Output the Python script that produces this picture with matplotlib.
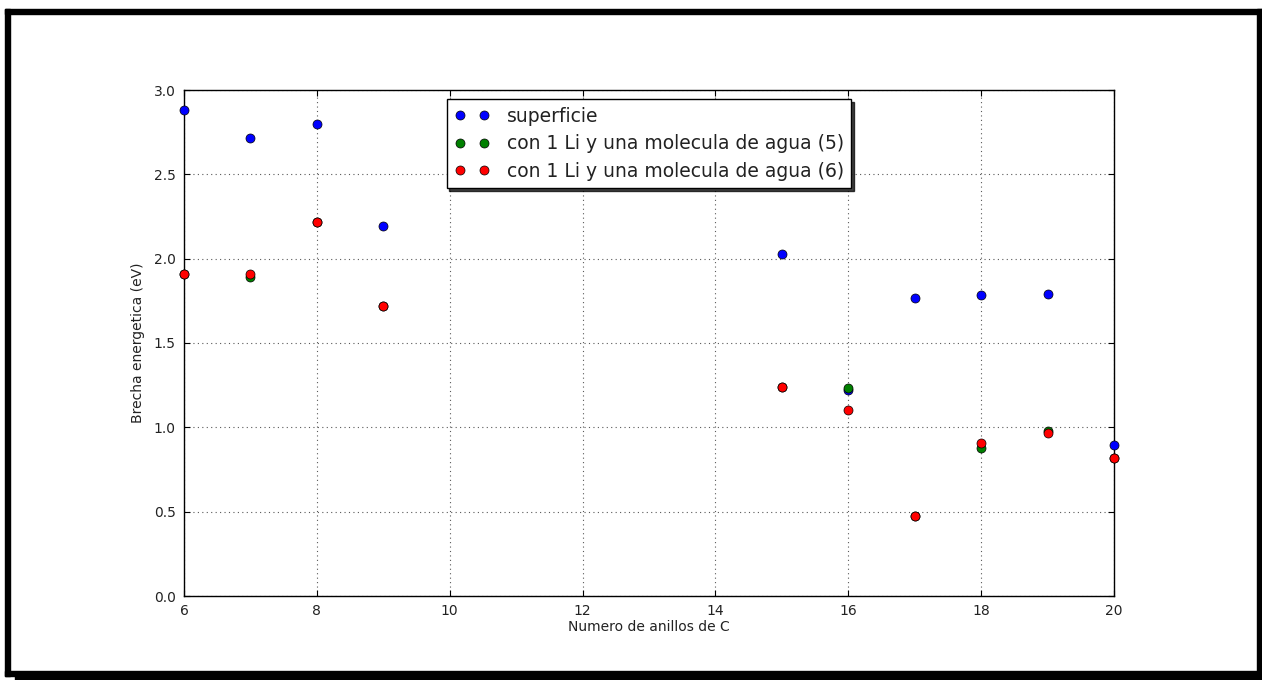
import numpy as np
import matplotlib
matplotlib.use('Agg')
from matplotlib import pyplot as plt
from matplotlib.patches import Rectangle

anillos = [6, 7, 8, 9, 15, 16, 17, 18, 19, 20]
superficie = [2.88, 2.715, 2.80, 2.194, 2.028, 1.22, 1.767, 1.785, 1.79, 0.893]
agua5 = [1.909, 1.89, 2.217, 1.72, 1.239, 1.235, 0.474, 0.879, 0.98, 0.818]
agua6 = [1.909, 1.91, 2.22, 1.72, 1.239, 1.101, 0.474, 0.905, 0.968, 0.816]

W, H = 1262, 680
fig = plt.figure(figsize=(W / 100, H / 100), dpi=100)
ax = fig.add_axes([184 / W, 1 - 596 / H, 930 / W, 506 / H])

kw = dict(linestyle='none', marker='o', markersize=6.5, markeredgecolor='black',
          markeredgewidth=0.5, clip_on=False, zorder=3)
ax.plot(anillos, superficie, color='#0000ff', label='superficie', **kw)
ax.plot(anillos, agua5, color='#008000', label='con 1 Li y una molecula de agua (5)', **kw)
ax.plot(anillos, agua6, color='#ff0000', label='con 1 Li y una molecula de agua (6)', **kw)

ax.set_xlim(6, 20)
ax.set_ylim(0, 3.0)
ax.set_xticks(np.arange(6, 21, 2))
ax.set_yticks(np.arange(0, 3.01, 0.5))
ax.tick_params(direction='in', top=True, right=True, labelsize=10, length=4, pad=6,
               labelcolor='#222222')
ax.grid(True, linestyle=(0, (1, 3)), color='0.35', linewidth=0.8)
for s in ax.spines.values():
    s.set_linewidth(1.0)
ax.set_xlabel('Numero de anillos de C', fontsize=10, labelpad=1, color='#222222')
ax.set_ylabel('Brecha energetica (eV)', fontsize=10, labelpad=6, color='#222222')

leg = ax.legend(loc='upper center', numpoints=2, fontsize=13.5,
                shadow={'color': 'black', 'alpha': 0.75},
                fancybox=False, framealpha=1, edgecolor='black',
                borderpad=0.4, labelspacing=0.45, handlelength=1.9,
                handletextpad=0.9, borderaxespad=0.5)
leg.get_frame().set_linewidth(1.0)
for t in leg.get_texts():
    t.set_color('#222222')

# black frame around the figure
def px_rect(x0, y0, x1, y1):
    fig.patches.append(Rectangle((x0 / W, 1 - y1 / H), (x1 - x0) / W, (y1 - y0) / H,
                                 transform=fig.transFigure, color='black', zorder=10))

px_rect(5, 9, 1262, 14)
px_rect(5, 9, 10, 676)
px_rect(1257, 9, 1262, 680)
px_rect(5, 671, 1262, 676)
px_rect(15, 676, 1262, 680)

fig.savefig('out.png', dpi=100)
